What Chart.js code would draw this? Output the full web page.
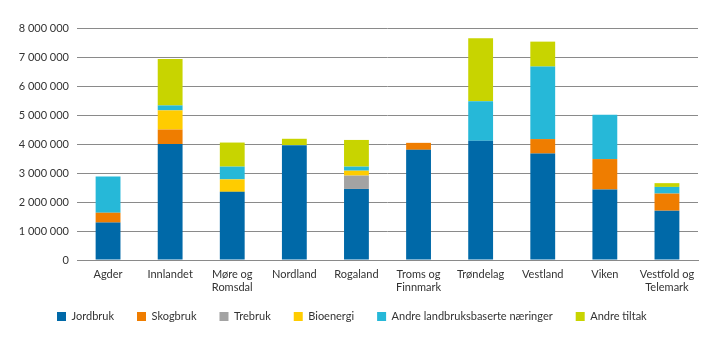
<!DOCTYPE html>
<html>
<head>
<meta charset="utf-8">
<script src="https://cdn.jsdelivr.net/npm/chart.js@4/dist/chart.umd.min.js"></script>
<style>
  html, body { margin: 0; padding: 0; background: #fff; }
  #wrap { width: 719px; height: 341px; position: relative; }
</style>
</head>
<body>
<div id="wrap"><canvas id="chart"></canvas></div>
<script>
// Fylker
const categories = ['Agder', 'Innlandet', ['Møre og', 'Romsdal'], 'Nordland', 'Rogaland',
  ['Troms og', 'Finnmark'], 'Trøndelag', 'Vestland', 'Viken', ['Vestfold og', 'Telemark']];

// Values in NOK
const jordbruk   = [1290000, 4000000, 2350000, 3960000, 2450000, 3800000, 4110000, 3670000, 2430000, 1700000];
const skogbruk   = [340000, 500000, 0, 0, 0, 240000, 0, 500000, 1050000, 590000];
const trebruk    = [0, 0, 0, 0, 460000, 0, 0, 0, 0, 0];
const bioenergi  = [0, 660000, 430000, 0, 170000, 0, 0, 0, 0, 0];
const andreLandbruk = [1250000, 170000, 440000, 0, 140000, 0, 1360000, 2500000, 1530000, 230000];
const andreTiltak   = [0, 1600000, 830000, 220000, 920000, 0, 2180000, 860000, 0, 130000];

const yTicks = [0, 1000000, 2000000, 3000000, 4000000, 5000000, 6000000, 7000000, 8000000];

const series = [
  { label: 'Jordbruk', data: jordbruk, color: '#0069a8' },
  { label: 'Skogbruk', data: skogbruk, color: '#ef7d00' },
  { label: 'Trebruk', data: trebruk, color: '#a3a3a3' },
  { label: 'Bioenergi', data: bioenergi, color: '#ffcc00' },
  { label: 'Andre landbruksbaserte næringer', data: andreLandbruk, color: '#26b8d8' },
  { label: 'Andre tiltak', data: andreTiltak, color: '#c8d400' },
];

const fmt = v => String(v).replace(/\B(?=(\d{3})+(?!\d))/g, ' ');
const family = 'Lato, "Noto Sans", sans-serif';
const axisFont = { family, size: 11 };

Chart.defaults.color = '#333';
Chart.defaults.animation = false;

// legend sits further right and a bit higher than the default layout puts it
const legendPlacer = {
  id: 'legendPlacer',
  afterLayout(chart) {
    chart.legend.left = 34;
    chart.legend.top = 288;
  }
};

new Chart(document.getElementById('chart'), {
  type: 'bar',
  data: {
    labels: categories,
    datasets: series.map(s => ({
      label: s.label,
      data: s.data,
      backgroundColor: s.color,
      borderWidth: 0,
      categoryPercentage: 1,
      barPercentage: 0.4,
    }))
  },
  options: {
    responsive: true,
    maintainAspectRatio: false,
    layout: { padding: { top: 28, right: 21, left: 0, bottom: 5 } },
    plugins: {
      tooltip: { enabled: false },
      legend: {
        position: 'bottom',
        align: 'start',
        maxHeight: 40,
        labels: {
          font: { family, size: 11 },
          boxWidth: 9,
          boxHeight: 9,
          padding: 23,
          color: '#333',
        }
      }
    },
    scales: {
      x: {
        stacked: true,
        afterFit: axis => { axis.height = 36; },
        grid: { display: false, drawTicks: false },
        border: { color: '#8a8a8a' },
        ticks: { font: axisFont, padding: 8, maxRotation: 0, autoSkip: false }
      },
      y: {
        stacked: true,
        min: 0,
        max: 8000000,
        afterBuildTicks: axis => { axis.ticks = yTicks.map(v => ({ value: v })); },
        afterFit: axis => { axis.width = 77; },
        grid: { color: '#8a8a8a', drawTicks: false },
        border: { display: false },
        ticks: { font: axisFont, padding: 8, callback: v => fmt(v) }
      }
    }
  },
  plugins: [legendPlacer]
});
</script>
</body>
</html>
